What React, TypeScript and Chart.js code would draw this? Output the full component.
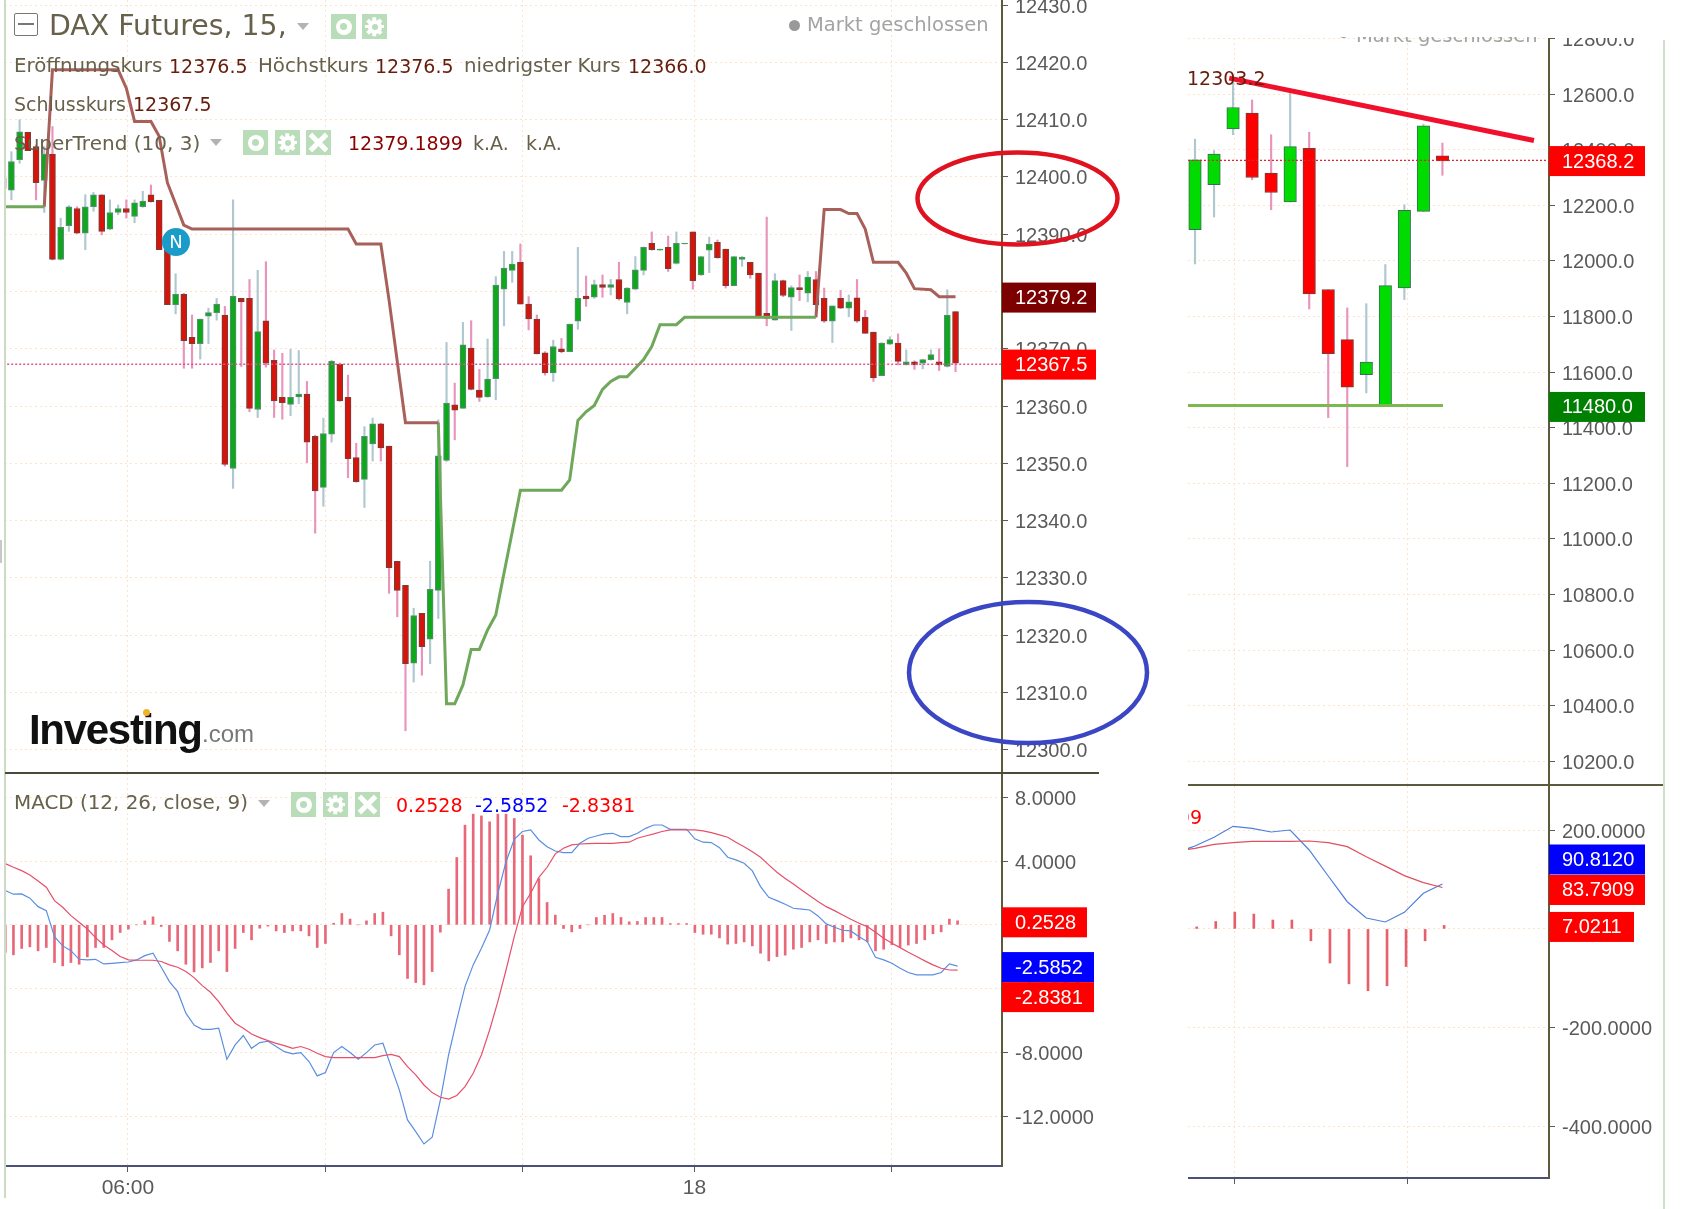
import React, { useEffect, useRef } from "react";
import { Chart, registerables } from "chart.js";

Chart.register(...registerables);

// ---------- main 15-minute candles ----------
const openPrices = [
  12399.8,12397.7,12403.0,12407.8,12405.3,12399.4,12404.0,12385.6,12391.5,12394.5,
  12390.2,12394.8,12396.9,12390.9,12393.8,12394.5,12393.1,12394.8,12396.9,12395.9,
  12387.3,12377.7,12379.5,12372.0,12370.9,12375.7,12376.3,12375.9,12349.1,12378.8,
  12378.8,12359.4,12374.9,12368.0,12361.5,12360.3,12361.6,12362.1,12354.7,12345.8,
  12355.1,12367.3,12361.5,12351.0,12347.2,12353.4,12356.9,12353.0,12332.9,12328.7,
  12315.1,12323.8,12319.3,12327.8,12350.5,12360.2,12359.6,12370.1,12362.8,12361.6,
  12364.8,12380.4,12383.7,12385.1,12377.8,12375.2,12369.3,12365.8,12370.0,12369.5,
  12374.8,12379.2,12379.0,12381.2,12380.7,12382.1,12378.1,12380.4,12383.7,12388.4,
  12387.2,12387.7,12384.9,12388.3,12390.4,12382.9,12387.2,12388.6,12387.4,12381.0,
  12385.6,12385.1,12383.2,12376.2,12375.0,12381.9,12379.0,12380.7,12379.7,12382.1,
  12378.8,12374.8,12378.8,12377.1,12378.9,12375.5,12372.9,12365.3,12370.8,12371.0,
  12367.2,12367.7,12367.5,12368.1,12367.7,12366.9,12376.5,
];
const closePrices = [
  12398.0,12402.7,12407.9,12404.6,12399.0,12404.0,12385.6,12391.2,12394.8,12390.2,
  12394.8,12396.9,12390.5,12393.8,12394.5,12393.8,12395.5,12395.8,12395.7,12387.3,
  12377.7,12379.5,12371.4,12370.9,12375.2,12376.3,12377.8,12349.8,12379.2,12378.2,
  12359.6,12373.0,12367.5,12360.9,12360.6,12361.5,12362.1,12353.7,12345.2,12355.2,
  12367.8,12360.9,12350.8,12346.8,12354.7,12356.9,12352.7,12331.8,12327.8,12315.0,
  12323.4,12318.0,12328.0,12351.3,12360.5,12359.3,12370.7,12362.9,12361.5,12364.7,
  12381.1,12384.1,12384.8,12377.8,12375.2,12369.1,12365.8,12370.4,12369.5,12374.3,
  12378.8,12378.7,12381.2,12380.7,12381.2,12378.7,12380.6,12383.8,12387.7,12387.3,
  12387.4,12384.0,12388.4,12388.4,12381.9,12386.1,12388.3,12385.9,12381.0,12386.1,
  12386.0,12382.9,12375.6,12375.3,12381.9,12379.3,12380.7,12380.3,12382.5,12377.7,
  12374.8,12377.5,12377.1,12378.2,12374.8,12372.7,12364.9,12371.0,12371.6,12367.8,
  12367.7,12367.2,12368.1,12369.0,12367.2,12375.9,12367.5,
];
const highPrices = [
  12399.8,12404.4,12410.0,12407.8,12405.6,12405.3,12408.8,12392.8,12395.0,12394.8,
  12396.9,12397.3,12396.9,12396.0,12395.1,12396.0,12396.0,12397.5,12398.6,12395.9,
  12387.3,12383.1,12379.7,12375.9,12375.2,12377.1,12378.8,12377.4,12396.0,12378.8,
  12382.1,12383.7,12385.2,12369.8,12369.2,12369.9,12369.7,12364.3,12354.9,12357.9,
  12368.0,12367.5,12365.4,12353.5,12356.4,12357.9,12357.0,12353.0,12332.9,12328.7,
  12324.7,12323.8,12332.9,12357.6,12371.1,12364.0,12374.6,12374.9,12366.4,12371.7,
  12382.6,12387.0,12387.0,12388.3,12379.1,12375.9,12369.5,12371.5,12371.8,12374.3,
  12387.7,12382.7,12382.0,12382.9,12382.1,12385.1,12380.7,12386.1,12387.8,12390.4,
  12387.4,12389.7,12390.4,12388.4,12390.4,12386.1,12389.5,12389.0,12387.4,12386.1,
  12386.1,12385.1,12383.2,12393.0,12383.1,12382.0,12381.0,12382.9,12383.5,12383.5,
  12380.6,12377.5,12380.2,12379.4,12382.1,12376.7,12372.9,12371.1,12372.1,12372.6,
  12369.8,12367.9,12368.2,12369.8,12370.0,12380.3,12376.5,
];
const lowPrices = [
  12398.0,12396.0,12402.4,12404.6,12396.0,12393.8,12385.5,12385.5,12390.5,12390.1,
  12387.3,12394.0,12389.9,12390.8,12393.4,12392.8,12392.0,12394.7,12395.6,12387.3,
  12377.7,12376.1,12366.6,12366.6,12368.2,12370.9,12375.0,12349.5,12345.6,12366.9,
  12359.0,12358.0,12366.8,12358.0,12357.7,12358.3,12360.4,12350.1,12337.8,12342.5,
  12353.7,12360.8,12347.5,12346.7,12342.3,12350.4,12350.4,12327.3,12323.2,12303.3,
  12311.8,12313.0,12315.0,12322.9,12350.3,12354.1,12359.6,12362.8,12360.8,12361.5,
  12361.1,12374.0,12381.6,12377.8,12373.3,12369.1,12365.4,12364.3,12369.3,12369.5,
  12373.4,12377.4,12378.8,12379.0,12379.4,12378.5,12376.1,12380.3,12382.9,12387.2,
  12387.2,12383.5,12384.8,12388.3,12380.4,12382.8,12383.3,12385.8,12380.6,12381.0,
  12384.4,12382.3,12375.5,12374.0,12375.0,12379.1,12373.2,12378.4,12378.2,12376.1,
  12374.6,12371.1,12377.0,12375.6,12374.6,12372.7,12364.3,12365.3,12370.7,12367.2,
  12367.2,12366.4,12366.5,12368.0,12366.2,12366.8,12366.0,
];

// ---------- SuperTrend (10, 3) vertices ----------
const trendUpAIdx = [0, 5];
const trendUpAVal = [12394.8, 12394.8];
const trendDownAIdx = [5,6,14,15,16,18,19,20,22,23,42,43,46,47,49,53];
const trendDownAVal = [12394.8,12418.7,12418.7,12415.5,12409.7,12409.7,12407.1,12399.0,12391.6,12390.9,12390.9,12388.3,12388.3,12378.5,12357.1,12357.1];
const trendUpBIdx = [53,54,55,56,57,58,59,60,61,62,63,68,69,70,71,72,73,74,75,76,77,78,79,80,82,83,99];
const trendUpBVal = [12357.1,12308.0,12308.0,12311.3,12317.5,12317.5,12320.9,12323.5,12330.8,12338.0,12345.3,12345.3,12347.1,12357.5,12359.0,12360.1,12362.9,12364.3,12365.1,12365.1,12366.6,12368.1,12370.4,12374.2,12374.2,12375.5,12375.5];
const trendDownBIdx = [99,100,102,103,104,105,106,109,110,111,113,114,116];
const trendDownBVal = [12375.5,12394.3,12394.3,12393.6,12393.6,12390.9,12385.1,12385.1,12383.2,12380.5,12380.3,12379.1,12379.1];

// ---------- main MACD ----------
const macdLine = [
  2.15,1.92,1.94,1.67,1.14,0.89,-0.74,-1.32,-1.62,-2.16,
  -2.2,-2.16,-2.45,-2.41,-2.37,-2.33,-2.2,-1.93,-1.78,-2.66,
  -3.56,-4.19,-5.54,-6.28,-6.55,-6.55,-6.48,-8.43,-7.53,-6.94,
  -7.74,-7.38,-7.3,-7.63,-7.95,-8.09,-8.01,-8.57,-9.47,-9.26,
  -8.01,-7.63,-8.01,-8.43,-8.01,-7.53,-7.42,-8.89,-10.35,-12.23,
  -12.96,-13.74,-13.32,-10.98,-8.16,-5.96,-3.87,-2.51,-1.47,-0.32,
  1.98,3.96,5.36,5.85,5.95,5.32,4.9,4.63,4.53,4.53,
  5.11,5.43,5.57,5.7,5.74,5.53,5.53,5.74,6.05,6.26,
  6.26,5.99,5.99,5.99,5.39,5.18,5.16,4.84,4.24,4.07,
  3.86,3.38,2.4,1.73,1.52,1.29,1.04,0.98,0.93,0.56,
  0.06,-0.15,-0.34,-0.38,-0.74,-1.05,-2.03,-2.2,-2.41,-2.72,
  -2.99,-3.14,-3.14,-3.14,-2.99,-2.45,-2.5852,
];
const signalLine = [
  3.84,3.61,3.4,3.13,2.75,2.36,1.52,1.1,0.58,0.16,
  -0.26,-0.8,-1.26,-1.61,-1.99,-2.2,-2.22,-2.22,-2.22,-2.3,
  -2.51,-2.66,-2.93,-3.31,-3.81,-4.23,-4.81,-5.54,-6.17,-6.48,
  -6.84,-7.07,-7.26,-7.43,-7.57,-7.74,-7.63,-7.8,-8.05,-8.26,
  -8.32,-8.32,-8.32,-8.32,-8.32,-8.32,-8.2,-8.12,-8.26,-8.89,
  -9.41,-10.04,-10.52,-10.81,-10.92,-10.7,-10.14,-9.31,-8.16,-6.59,
  -4.81,-2.83,-0.74,1.14,1.98,2.98,3.61,4.45,4.8,5.01,
  5.07,5.09,5.11,5.11,5.11,5.16,5.18,5.43,5.57,5.7,
  5.85,5.95,5.95,5.95,5.95,5.89,5.78,5.64,5.49,5.18,
  4.9,4.59,4.24,3.76,3.3,2.9,2.56,2.19,1.83,1.46,
  1.14,0.89,0.62,0.35,0.1,-0.11,-0.47,-0.84,-1.16,-1.43,
  -1.72,-1.99,-2.26,-2.51,-2.72,-2.83,-2.8381,
];
const macdHist = [
  -1.73,-1.88,-1.48,-1.38,-1.63,-1.42,-2.36,-2.57,-2.36,-2.47,
  -2.01,-1.42,-1.42,-0.94,-0.48,-0.27,0,0.25,0.5,-0.1,
  -1.04,-1.63,-2.47,-2.95,-2.7,-2.36,-1.63,-2.93,-1.48,-0.48,
  -0.94,-0.21,-0.08,-0.38,-0.48,-0.38,-0.38,-0.69,-1.42,-1.17,
  0.1,0.71,0.36,0,0.25,0.71,0.79,-0.69,-1.88,-3.36,
  -3.62,-3.76,-2.93,-0.46,2.24,4.22,6.25,6.94,6.83,6.46,
  6.94,6.94,6.67,5.62,4.33,2.9,1.4,0.61,-0.23,-0.44,
  -0.23,0,0.46,0.6,0.71,0.46,0.19,0.21,0.46,0.46,
  0.46,0.08,0.08,0.08,-0.48,-0.59,-0.59,-0.82,-1.21,-1.17,
  -1.07,-1.32,-1.78,-2.26,-1.99,-1.9,-1.53,-1.42,-1.07,-0.94,
  -1.17,-1.07,-1.07,-0.82,-0.94,-1.07,-1.63,-1.53,-1.25,-1.38,
  -1.27,-1.17,-0.94,-0.56,-0.44,0.36,0.2528,
];

// ---------- right panel candles ----------
const rightOpen = [12112,12274,12475,12532,12316,12212,12405,11897,11717,11591,11478,11903,12178,12378];
const rightClose = [12364,12384,12552,12300,12246,12411,11881,11666,11546,11636,11911,12182,12486,12360];
const rightHigh = [12438,12397,12642,12579,12454,12603,12463,11897,11831,11846,11987,12202,12492,12424];
const rightLow = [11989,12158,12454,12292,12184,12212,11827,11436,11260,11525,11478,11861,12178,12308];
const rightTrendX = [1.8, 17.81];
const rightTrendY = [12657.5, 12433];
const rightSupportX = [-0.4, 13.03];
const rightSupportY = [11480, 11480];

const rightMacdIdx = [-1,0,1,2,3,4,5,6,7,8,9,10,11,12,13];
const rightMacd = [154,167.6,185.2,207.4,203.4,196,200,159.6,107,55,22,14,33.5,72,90.812];
const rightSignal = [157.5,163,171,174.4,177,177,177,177.8,174.4,166.3,146,127,107.7,93.5,83.7909];
const rightHist = [4,15,34,30,18,18,-24,-69,-111,-125,-115,-76,-24,7.0211];

// ---------- ticks ----------
const priceTicks = [12430,12420,12410,12400,12390,12380,12370,12360,12350,12340,12330,12320,12310,12300];
const macdTicks = [8,4,0,-4,-8,-12];
const rightPriceTicks = [12800,12600,12400,12200,12000,11800,11600,11400,11200,11000,10800,10600,10400,10200];
const rightMacdTicks = [200,0,-200,-400];
const timeTicks = [15.19,39.2,63.2,84.2,108.25];
const timeTickLabels = ["06:00","","","18",""];
const rightTimeTicks = [2.05,11.14];

const LASTPRICE = 12367.5;
const LAST_LINE = 12367.3;
const RIGHTPRICE = 12368.2;
const RIGHT_LINE = 12362;

const AXIS_FONT = { family: '"Liberation Sans", Arial, sans-serif', size: 20 };
const AXIS_TEXT = "#5a5a5a";
const AXIS_LINE = "#5c5a3c";
const GRID = "#fbe4cb";
const UI_FONT = '"DejaVu Sans", sans-serif';
const LABEL = "#67604a";
const VALUE = "#651d0c";
const LS = 19.8;

const xy = (xs: number[], ys: number[]) => xs.map((x, i) => ({ x, y: ys[i] }));

type Tag = { value: number; label: string; color: string; width: number; shift?: number };

const tagPlugin = (tags: Tag[]) => ({
  id: "tags",
  afterDraw(chart: any) {
    const ctx = chart.ctx;
    const y = chart.scales.y;
    const r = chart.chartArea.right;
    ctx.save();
    for (const t of tags) {
      const py = y.getPixelForValue(t.value) + (t.shift || 0) + 1.5;
      ctx.fillStyle = t.color;
      ctx.fillRect(r, py - 15, t.width, 30);
      ctx.fillStyle = "#fff";
      ctx.font = `20px ${AXIS_FONT.family}`;
      ctx.textBaseline = "middle";
      ctx.textAlign = "left";
      ctx.fillText(t.label, r + 13, py + 1);
    }
    ctx.restore();
  },
});

const ellipsePlugin = {
  id: "ellipses",
  afterDraw(chart: any) {
    const ctx = chart.ctx;
    ctx.save();
    ctx.lineWidth = 4.5;
    ctx.strokeStyle = "#e0121f";
    ctx.beginPath();
    ctx.ellipse(1012.5, 198.5, 100, 46, 0, 0, Math.PI * 2);
    ctx.stroke();
    ctx.strokeStyle = "#3a46c4";
    ctx.beginPath();
    ctx.ellipse(1023, 672.5, 119, 70.5, 0, 0, Math.PI * 2);
    ctx.stroke();
    ctx.restore();
  },
};

function candleDatasets(
  o: number[], h: number[], l: number[], c: number[],
  xs: number[], bodyW: number, up: string, down: string, upB: string, downB: string, wickW: number,
) {
  return [
    {
      type: "bar", order: 5, grouped: false,
      data: xs.map((x, i) => ({ x, y: [l[i], h[i]] })),
      backgroundColor: xs.map((_, i) => (c[i] >= o[i] ? "#afc8d0" : "#e995bb")),
      borderWidth: 0, barThickness: wickW,
    },
    {
      type: "bar", order: 4, grouped: false,
      data: xs.map((x, i) => ({ x, y: [o[i], c[i]] })),
      backgroundColor: xs.map((_, i) => (c[i] >= o[i] ? up : down)),
      borderColor: xs.map((_, i) => (c[i] >= o[i] ? upB : downB)),
      borderWidth: 1, borderSkipped: false, barThickness: bodyW,
    },
  ];
}

const line = (data: any[], color: string, width: number, dash?: number[], order = 2) => ({
  type: "line", order, data, borderColor: color, borderWidth: width,
  borderDash: dash || [], pointRadius: 0, tension: 0, fill: false, spanGaps: true,
});

const LABEL_DY = 2;
const shiftLabels = (s: any) => {
  if (s.__shifted) return;
  s.__shifted = true;
  const orig = s._computeLabelItems;
  s._computeLabelItems = function (area: any) {
    return orig.call(this, area).map((it: any) => ({
      ...it,
      options: {
        ...it.options,
        translation: [it.options.translation[0], it.options.translation[1] + LABEL_DY],
      },
    }));
  };
};

function baseOptions(cfg: {
  xMin: number; xMax: number; yMin: number; yMax: number;
  yTicks: number[]; xTicks: number[]; xLabels?: string[];
  digits: number; yWidth: number; xHeight: number; showXAxis: boolean;
}) {
  return {
    responsive: false,
    animation: false,
    devicePixelRatio: 1,
    layout: { padding: 0 },
    events: [],
    plugins: { legend: { display: false }, tooltip: { enabled: false }, title: { display: false } },
    scales: {
      x: {
        type: "linear",
        offset: false,
        min: cfg.xMin,
        max: cfg.xMax,
        afterBuildTicks: (s: any) => { s.ticks = cfg.xTicks.map((value) => ({ value })); },
        afterFit: (s: any) => { s.height = cfg.xHeight; s.paddingLeft = 0; s.paddingRight = 0; },
        grid: {
          offset: false, color: GRID, lineWidth: 1,
          drawTicks: cfg.showXAxis, tickLength: 6, tickColor: "#5a5a5a", tickBorderDash: [],
        },
        border: { display: cfg.showXAxis, color: "#4a5078", width: 2, dash: [2, 3] },
        ticks: {
          display: cfg.showXAxis, autoSkip: false, maxRotation: 0, padding: 4,
          font: { family: AXIS_FONT.family, size: 21 }, color: AXIS_TEXT,
          callback: (_: any, i: number) => (cfg.xLabels ? cfg.xLabels[i] : ""),
        },
      },
      y: {
        type: "linear",
        position: "right",
        min: cfg.yMin,
        max: cfg.yMax,
        beforeUpdate: shiftLabels,
        afterBuildTicks: (s: any) => { s.ticks = cfg.yTicks.map((value) => ({ value })); },
        afterFit: (s: any) => { s.width = cfg.yWidth; s.paddingTop = 0; s.paddingBottom = 0; },
        grid: {
          color: GRID, lineWidth: 1, tickLength: 6, tickColor: "#5a5a5a", tickBorderDash: [],
        },
        border: { color: AXIS_LINE, width: 2, dash: [2, 3] },
        ticks: {
          padding: 7, font: AXIS_FONT, color: AXIS_TEXT, autoSkip: false,
          callback: (v: any) => Number(v).toFixed(cfg.digits),
        },
      },
    },
  };
}

const Icon = ({ x, y, kind }: { x: number; y: number; kind: "eye" | "gear" | "x" }) => {
  const w = 25;
  const base: React.CSSProperties = { position: "absolute", left: x, top: y, width: w, height: w, background: "#b9dcb9" };
  const bar = (deg: number, len: number, h: number): React.CSSProperties => ({
    position: "absolute", left: (w - len) / 2, top: (w - h) / 2, width: len, height: h, background: "#fff", transform: `rotate(${deg}deg)`,
  });
  if (kind === "x") {
    return <div style={base}><div style={bar(45, 23, 5)} /><div style={bar(-45, 23, 5)} /></div>;
  }
  const outer = kind === "eye" ? 16 : 14;
  const hole = kind === "eye" ? 7 : 6;
  return (
    <div style={base}>
      {kind === "gear" && [0, 45, 90, 135].map((d) => <div key={d} style={bar(d, 19, 3.5)} />)}
      <div style={{ position: "absolute", left: (w - outer) / 2, top: (w - outer) / 2, width: outer, height: outer, borderRadius: "50%", background: "#fff" }} />
      <div style={{ position: "absolute", left: (w - hole) / 2, top: (w - hole) / 2, width: hole, height: hole, borderRadius: "50%", background: "#b9dcb9" }} />
    </div>
  );
};

const Caret = ({ x, y }: { x: number; y: number }) => (
  <div style={{ position: "absolute", left: x, top: y, width: 0, height: 0, borderLeft: "6.5px solid transparent", borderRight: "6.5px solid transparent", borderTop: "7px solid #b3b3b3" }} />
);

const T = ({ x, y, c, s = 19, f = UI_FONT, children, extra }: any) => (
  <div style={{ position: "absolute", left: x, top: y, color: c, fontSize: s, fontFamily: f, lineHeight: "24px", height: 24, whiteSpace: "nowrap", transform: "translateY(-12px)", ...extra }}>{children}</div>
);

export default function App() {
  const mainRef = useRef<HTMLCanvasElement>(null);
  const macdRef = useRef<HTMLCanvasElement>(null);
  const rightRef = useRef<HTMLCanvasElement>(null);
  const rightMacdRef = useRef<HTMLCanvasElement>(null);

  useEffect(() => {
    const idx = openPrices.map((_, i) => i);
    const main = new Chart(mainRef.current as any, {
      type: "bar",
      data: {
        datasets: [
          ...candleDatasets(openPrices, highPrices, lowPrices, closePrices, idx, 6, "#0fa81c", "#d5140c", "#5c8c78", "#70423a", 1.5),
          line(xy(trendUpAIdx, trendUpAVal), "#6fa85a", 3),
          line(xy(trendDownAIdx, trendDownAVal), "#a8605a", 3),
          line(xy(trendUpBIdx, trendUpBVal), "#6fa85a", 3),
          line(xy(trendDownBIdx, trendDownBVal), "#a8605a", 3),
          line(xy([0, 122], [LAST_LINE, LAST_LINE]), "#e2558f", 1.5, [2, 2], 1),
        ],
      } as any,
      options: baseOptions({
        xMin: 0.22, xMax: 121.66, yMin: 12296.1, yMax: 12430.9,
        yTicks: priceTicks, xTicks: timeTicks, digits: 1, yWidth: 158, xHeight: 0, showXAxis: false,
      }) as any,
      plugins: [
        tagPlugin([
          { value: 12379.2, label: "12379.2", color: "#7d0000", width: 94 },
          { value: LASTPRICE, label: "12367.5", color: "#ff0000", width: 94 },
        ]),
        ellipsePlugin,
      ] as any,
    });

    const macd = new Chart(macdRef.current as any, {
      type: "bar",
      data: {
        datasets: [
          { type: "bar", order: 5, data: xy(idx, macdHist), backgroundColor: "#e8687a", barThickness: 2, borderWidth: 0 },
          line(xy(idx, macdLine), "#5b8ee0", 1.2, undefined, 2),
          line(xy(idx, signalLine), "#e5506a", 1.2, undefined, 1),
        ],
      } as any,
      options: baseOptions({
        xMin: -0.03, xMax: 121.41, yMin: -15.12, yMax: 9.52,
        yTicks: macdTicks, xTicks: timeTicks.map((t) => t - 0.25), xLabels: timeTickLabels,
        digits: 4, yWidth: 158, xHeight: 43, showXAxis: true,
      }) as any,
      plugins: [
        tagPlugin([
          { value: 0.2528, label: "0.2528", color: "#ff0000", width: 85 },
          { value: -2.5852, label: "-2.5852", color: "#0000ff", width: 92, shift: -0.5 },
          { value: -2.8381, label: "-2.8381", color: "#ff0000", width: 92, shift: 25.5 },
        ]),
      ] as any,
    });

    const ridx = rightOpen.map((_, i) => i);
    const right = new Chart(rightRef.current as any, {
      type: "bar",
      data: {
        datasets: [
          ...candleDatasets(rightOpen, rightHigh, rightLow, rightClose, ridx, 12.5, "#00dc00", "#ff0000", "#3a6a58", "#70403a", 1.5),
          line(xy(rightSupportX, rightSupportY), "#7cb84e", 3, undefined, 3),
          line(xy([-1, 19], [RIGHT_LINE, RIGHT_LINE]), "#e0242a", 1.2, [2, 2], 2),
          line(xy(rightTrendX, rightTrendY), "#f0102c", 5, undefined, 1),
        ],
      } as any,
      options: baseOptions({
        xMin: -0.368, xMax: 18.6, yMin: 10118, yMax: 12802,
        yTicks: rightPriceTicks, xTicks: rightTimeTicks, digits: 1, yWidth: 136, xHeight: 0, showXAxis: false,
      }) as any,
      plugins: [
        tagPlugin([
          { value: RIGHTPRICE, label: "12368.2", color: "#ff0000", width: 96, shift: 1 },
          { value: 11480, label: "11480.0", color: "#008000", width: 96 },
        ]),
      ] as any,
    });

    const rightMacdChart = new Chart(rightMacdRef.current as any, {
      type: "bar",
      data: {
        datasets: [
          { type: "bar", order: 5, data: xy(ridx.map((i) => i + 0.09), rightHist), backgroundColor: "#e6606c", barThickness: 2, borderWidth: 0 },
          line(xy(rightMacdIdx, rightMacd), "#4f7fdc", 1.2, undefined, 2),
          line(xy(rightMacdIdx, rightSignal), "#e0505e", 1.2, undefined, 1),
        ],
      } as any,
      options: baseOptions({
        xMin: -0.368, xMax: 18.6, yMin: -503.7, yMax: 289,
        yTicks: rightMacdTicks, xTicks: rightTimeTicks, digits: 4, yWidth: 136, xHeight: 31, showXAxis: true,
      }) as any,
      plugins: [
        tagPlugin([
          { value: 90.812, label: "90.8120", color: "#0000ff", width: 96, shift: -26 },
          { value: 83.7909, label: "83.7909", color: "#ff0000", width: 96, shift: 1 },
          { value: 7.0211, label: "7.0211", color: "#ff0000", width: 85 },
        ]),
      ] as any,
    });

    return () => {
      main.destroy();
      macd.destroy();
      right.destroy();
      rightMacdChart.destroy();
    };
  }, []);

  const cv = (left: number, top: number): React.CSSProperties => ({ position: "absolute", left, top, display: "block" });

  return (
    <div style={{ position: "fixed", left: 0, top: 0, width: 1685, height: 1209, background: "#fff", overflow: "hidden" }}>
      <canvas ref={mainRef} width={1155} height={772} style={cv(5, 0)} />
      <canvas ref={macdRef} width={1155} height={436} style={cv(5, 773)} />
      <canvas ref={rightRef} width={497} height={746} style={cv(1188, 38)} />
      <canvas ref={rightMacdRef} width={497} height={423} style={cv(1188, 786)} />

      {/* frame lines */}
      <div style={{ position: "absolute", left: 3.5, top: 0, width: 2, height: 1198, background: "#ccdcc4" }} />
      <div style={{ position: "absolute", left: 0, top: 540, width: 2, height: 23, background: "#c8c8c8" }} />
      <div style={{ position: "absolute", left: 1663, top: 40, width: 1.5, height: 1169, background: "#cfe0c8" }} />
      <div style={{ position: "absolute", left: 5, top: 772, width: 1094, height: 2, background: "#4a4a38" }} />
      <div style={{ position: "absolute", left: 1188, top: 784, width: 475, height: 2, background: "#5c5a3c" }} />

      {/* main legend */}
      <div style={{ position: "absolute", left: 14, top: 13, width: 22, height: 21, border: "1.5px solid #777", borderRadius: 2 }}>
        <div style={{ position: "absolute", left: 3, right: 3, top: 9, height: 2, background: "#777" }} />
      </div>
      <T x={49} y={26} c={LABEL} s={28.4}>DAX Futures, 15,</T>
      <Caret x={297} y={23} />
      <Icon x={331} y={14} kind="eye" />
      <Icon x={362} y={14} kind="gear" />
      <div style={{ position: "absolute", left: 789, top: 20, width: 11, height: 11, borderRadius: "50%", background: "#999" }} />
      <T x={807} y={25} c="#a3a3a3" s={19.5}>Markt geschlossen</T>

      <T x={14} y={66} c={LABEL} s={LS}>Eröffnungskurs</T>
      <T x={169} y={66} c={VALUE}>12376.5</T>
      <T x={258} y={66} c={LABEL} s={LS}>Höchstkurs</T>
      <T x={375} y={66} c={VALUE}>12376.5</T>
      <T x={464} y={66} c={LABEL} s={LS}>niedrigster Kurs</T>
      <T x={628} y={66} c={VALUE}>12366.0</T>
      <T x={14} y={104} c={LABEL}>Schlusskurs</T>
      <T x={133} y={104} c={VALUE}>12367.5</T>
      <T x={14} y={143} c={LABEL} s={20}>SuperTrend (10, 3)</T>
      <Caret x={210} y={139} />
      <Icon x={243} y={130} kind="eye" />
      <Icon x={275} y={130} kind="gear" />
      <Icon x={306} y={130} kind="x" />
      <T x={348} y={143} c="#8b0000">12379.1899</T>
      <T x={473} y={143} c={LABEL}>k.A.</T>
      <T x={526} y={143} c={LABEL}>k.A.</T>

      {/* news badge */}
      <div style={{ position: "absolute", left: 162, top: 228, width: 28, height: 28, borderRadius: "50%", background: "#1a9bc9", color: "#fff", fontFamily: UI_FONT, fontSize: 18, lineHeight: "28px", textAlign: "center" }}>N</div>

      {/* logo */}
      <T x={29} y={730} c="#111" s={42} f={AXIS_FONT.family} extra={{ fontWeight: 700, letterSpacing: -1.3 }}>Investing</T>
      <T x={202} y={734} c="#777" s={24} f={AXIS_FONT.family}>.com</T>
      <div style={{ position: "absolute", left: 143, top: 709, width: 7, height: 7, borderRadius: "50%", background: "#f0b429" }} />

      {/* MACD legend */}
      <T x={14} y={803} c={LABEL} s={19.9}>MACD (12, 26, close, 9)</T>
      <Caret x={258} y={800} />
      <Icon x={291} y={792} kind="eye" />
      <Icon x={323} y={792} kind="gear" />
      <Icon x={355} y={792} kind="x" />
      <T x={396} y={805} c="#ff0000">0.2528</T>
      <T x={475} y={805} c="#0000ff">-2.5852</T>
      <T x={562} y={805} c="#ff0000">-2.8381</T>

      {/* right panel clipped leftovers */}
      <T x={1187} y={78} c={VALUE}>12303.2</T>
      <div style={{ position: "absolute", left: 1330, top: 37, width: 215, height: 13, overflow: "hidden" }}>
        <div style={{ position: "absolute", left: 8, top: -10, width: 11, height: 11, borderRadius: "50%", background: "#999" }} />
        <div style={{ position: "absolute", left: 26, top: -13, color: "#a3a3a3", fontSize: 19.5, lineHeight: "24px", fontFamily: UI_FONT, whiteSpace: "nowrap" }}>Markt geschlossen</div>
      </div>
      <div style={{ position: "absolute", left: 1188, top: 805, width: 14, height: 24, overflow: "hidden" }}>
        <div style={{ position: "absolute", right: 0, top: 0, color: "#ff0000", fontSize: 19, lineHeight: "24px", fontFamily: UI_FONT }}>09</div>
      </div>
    </div>
  );
}
